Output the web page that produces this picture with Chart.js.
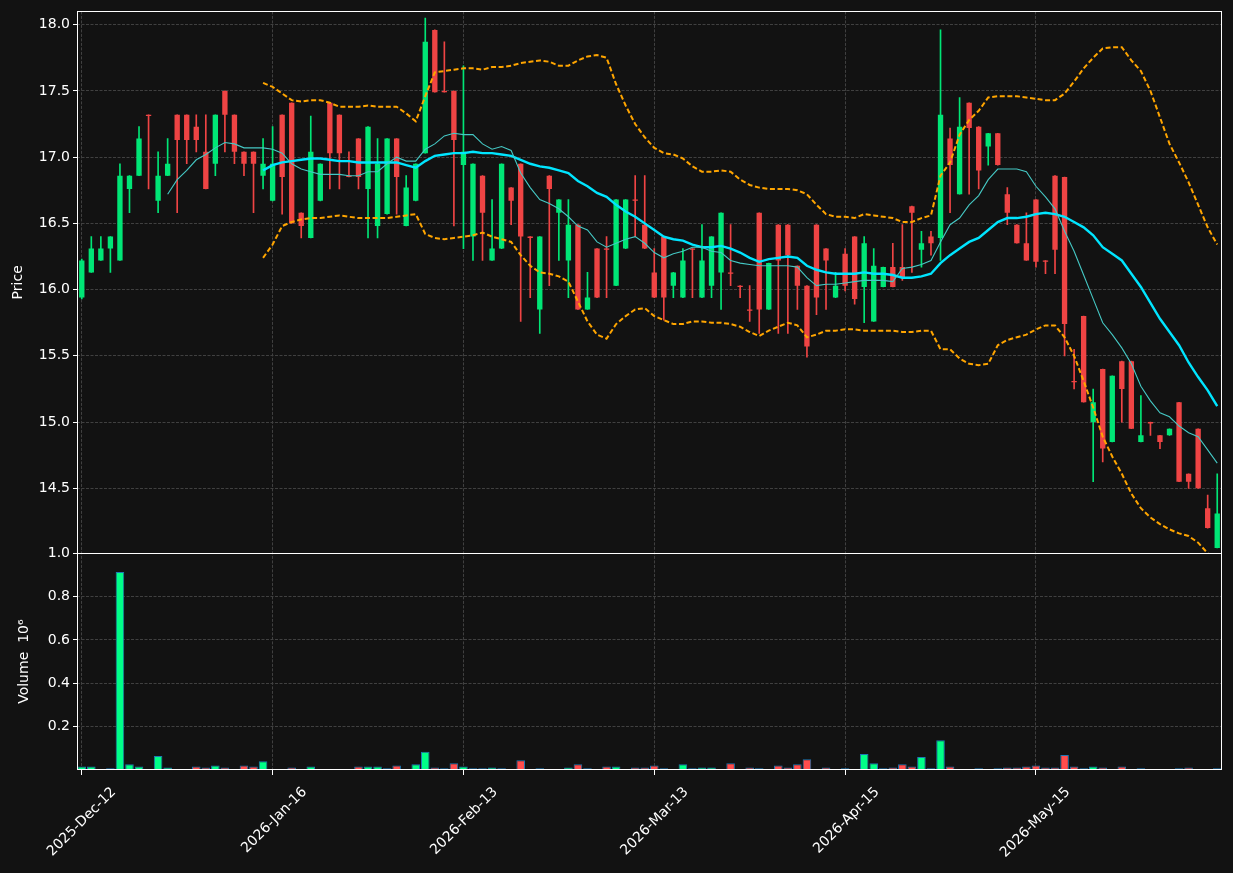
<!DOCTYPE html>
<html>
<head>
<meta charset="utf-8">
<script src="https://cdn.jsdelivr.net/npm/chart.js@4"></script>
<style>
  html, body { margin: 0; background: #121212; }
</style>
</head>
<body>
<canvas id="chart" width="1233" height="873"></canvas>
<script>
// ====================================
// Data
// ====================================
var openP = [
  15.94,16.13,16.22,16.31,16.22,16.76,16.86,17.32,16.67,16.86,
  17.32,17.32,17.23,17.04,16.95,17.50,17.32,17.04,17.04,16.86,
  16.67,17.32,17.41,16.58,16.39,16.67,17.41,17.32,16.86,17.14,
  16.76,16.48,16.57,17.14,16.48,16.67,17.03,17.96,17.50,17.50,
  16.94,16.40,16.86,16.22,16.31,16.77,16.95,16.40,15.85,16.86,
  16.58,16.22,16.49,15.85,16.31,16.31,16.03,16.31,16.68,16.49,
  16.13,16.40,16.03,15.94,16.31,15.94,16.03,16.13,16.13,16.03,
  15.85,16.58,15.85,16.49,16.49,16.18,16.03,16.49,16.31,15.94,
  16.27,16.40,16.02,15.76,16.02,16.17,16.17,16.63,16.30,16.40,
  16.39,17.14,16.72,17.41,17.23,17.08,17.18,16.72,16.49,16.35,
  16.68,16.22,16.86,16.85,15.31,15.80,15.00,15.40,14.85,15.46,
  15.46,14.85,15.00,14.90,14.90,15.15,14.61,14.95,14.35,14.05
];
var highP = [
  16.23,16.40,16.40,16.40,16.95,16.86,17.23,17.32,17.04,17.14,
  17.32,17.32,17.32,17.32,17.32,17.50,17.32,17.04,17.04,17.14,
  17.23,17.32,17.41,16.58,17.31,16.95,17.41,17.32,17.04,17.14,
  17.23,17.14,17.14,17.14,16.86,16.95,18.05,17.96,17.87,17.50,
  17.69,16.95,16.86,16.68,16.95,16.77,16.95,16.40,16.40,16.86,
  16.68,16.68,16.49,16.13,16.31,16.40,16.68,16.68,16.86,16.86,
  16.31,16.40,16.13,16.31,16.31,16.49,16.40,16.58,16.49,16.03,
  16.03,16.58,16.20,16.49,16.49,16.18,16.03,16.49,16.31,16.13,
  16.31,16.40,16.40,16.31,16.17,16.35,16.49,16.63,16.44,16.44,
  17.96,17.22,17.45,17.41,17.23,17.18,17.18,16.77,16.49,16.58,
  16.68,16.22,16.86,16.85,15.55,15.80,15.25,15.40,15.35,15.46,
  15.46,15.20,15.00,14.90,14.95,15.15,14.61,14.95,14.45,14.61
];
var lowP = [
  15.93,16.13,16.22,16.13,16.22,16.58,16.86,16.76,16.58,16.86,
  16.58,16.95,17.04,16.76,16.86,17.04,16.95,16.86,16.58,16.76,
  16.67,16.57,16.50,16.39,16.39,16.67,16.76,16.76,16.85,16.76,
  16.39,16.39,16.57,16.57,16.48,16.67,17.03,17.49,17.49,16.48,
  16.31,16.22,16.22,16.22,16.31,16.49,15.76,15.94,15.67,16.03,
  16.22,15.94,15.85,15.85,15.94,15.94,16.03,16.31,16.40,16.31,
  15.94,15.77,15.94,15.94,15.94,15.94,15.94,15.85,16.03,15.94,
  15.76,15.67,15.85,15.67,15.67,15.85,15.49,15.81,15.85,15.94,
  15.99,15.89,15.75,15.76,16.02,16.02,16.07,16.13,16.17,16.26,
  16.22,16.58,16.72,16.72,16.76,16.94,16.94,16.49,16.35,16.22,
  16.17,16.12,16.12,15.50,15.25,15.15,14.55,14.70,14.85,15.00,
  14.95,14.85,14.90,14.80,14.90,14.55,14.50,14.50,14.20,14.05
];
var closeP = [
  16.22,16.31,16.31,16.40,16.86,16.86,17.14,17.31,16.86,16.95,
  17.13,17.13,17.13,16.76,17.32,17.32,17.04,16.95,16.95,16.95,
  16.95,16.85,16.50,16.48,17.04,16.95,17.03,17.03,16.85,16.85,
  17.23,16.95,17.14,16.85,16.77,16.95,17.87,17.49,17.49,17.13,
  17.04,16.95,16.58,16.31,16.95,16.67,16.40,16.39,16.40,16.76,
  16.68,16.49,15.85,15.94,15.94,16.30,16.68,16.68,16.67,16.31,
  15.94,15.94,16.13,16.22,16.30,16.22,16.40,16.58,16.12,16.02,
  15.84,15.85,16.20,16.22,16.26,16.03,15.57,15.94,16.22,16.03,
  16.03,15.93,16.35,16.18,16.17,16.02,16.09,16.58,16.35,16.35,
  17.32,16.94,17.23,17.22,16.90,17.18,16.94,16.58,16.35,16.22,
  16.21,16.21,16.30,15.74,15.30,15.15,15.15,14.80,15.35,15.25,
  14.95,14.90,14.99,14.85,14.95,14.55,14.55,14.50,14.20,14.31
];
var volume = [
  0.016,0.016,0.003,0.008,0.913,0.026,0.016,0.003,0.065,0.011,
  0.003,0.003,0.016,0.011,0.021,0.011,0.003,0.021,0.016,0.040,
  0.003,0.003,0.011,0.003,0.016,0.003,0.003,0.003,0.003,0.016,
  0.016,0.016,0.008,0.021,0.003,0.026,0.084,0.011,0.008,0.031,
  0.016,0.008,0.008,0.011,0.008,0.003,0.045,0.003,0.008,0.003,
  0.003,0.011,0.026,0.008,0.003,0.016,0.016,0.003,0.011,0.011,
  0.021,0.008,0.003,0.026,0.008,0.011,0.011,0.003,0.031,0.003,
  0.011,0.008,0.003,0.021,0.011,0.026,0.050,0.003,0.011,0.003,
  0.008,0.003,0.074,0.031,0.008,0.011,0.026,0.016,0.060,0.008,
  0.137,0.016,0.003,0.003,0.008,0.003,0.008,0.011,0.011,0.016,
  0.021,0.011,0.011,0.069,0.016,0.008,0.016,0.011,0.003,0.016,
  0.003,0.008,0.003,0.003,0.003,0.008,0.011,0.003,0.003,0.008
];
var ma10 = [
  null,null,null,null,null,null,null,null,null,16.72,
  16.83,16.90,16.98,17.02,17.07,17.11,17.10,17.07,17.07,17.07,
  17.06,17.03,16.95,16.91,16.89,16.87,16.87,16.87,16.86,16.86,
  16.89,16.89,16.95,17.00,16.97,16.97,17.06,17.10,17.16,17.18,
  17.17,17.17,17.10,17.06,17.08,17.05,16.88,16.77,16.68,16.65,
  16.61,16.55,16.48,16.45,16.36,16.32,16.35,16.38,16.40,16.35,
  16.28,16.24,16.27,16.29,16.32,16.32,16.29,16.28,16.22,16.20,
  16.19,16.18,16.18,16.18,16.18,16.17,16.09,16.03,16.04,16.04,
  16.05,16.06,16.07,16.07,16.07,16.06,16.16,16.17,16.19,16.22,
  16.36,16.49,16.54,16.64,16.71,16.83,16.91,16.91,16.91,16.89,
  16.78,16.70,16.61,16.44,16.29,16.11,15.93,15.75,15.66,15.56,
  15.44,15.27,15.16,15.07,15.04,14.97,14.92,14.89,14.79,14.69
];
var ma20 = [
  null,null,null,null,null,null,null,null,null,null,
  null,null,null,null,null,null,null,null,null,16.90,
  16.94,16.96,16.97,16.98,16.99,16.99,16.98,16.97,16.97,16.96,
  16.96,16.96,16.96,16.96,16.94,16.92,16.97,17.01,17.02,17.03,
  17.03,17.04,17.03,17.03,17.02,17.01,16.98,16.95,16.93,16.92,
  16.90,16.88,16.82,16.78,16.73,16.70,16.64,16.59,16.55,16.50,
  16.45,16.40,16.38,16.37,16.34,16.32,16.32,16.33,16.31,16.28,
  16.24,16.21,16.23,16.24,16.25,16.24,16.18,16.15,16.13,16.12,
  16.12,16.12,16.13,16.12,16.12,16.11,16.09,16.09,16.10,16.12,
  16.20,16.26,16.31,16.36,16.39,16.45,16.51,16.54,16.54,16.55,
  16.57,16.58,16.57,16.55,16.51,16.47,16.41,16.32,16.27,16.22,
  16.12,16.02,15.90,15.78,15.68,15.58,15.45,15.34,15.24,15.12
];
var bandUpper = [
  null,null,null,null,null,null,null,null,null,null,
  null,null,null,null,null,null,null,null,null,17.56,
  17.53,17.48,17.43,17.42,17.43,17.43,17.41,17.38,17.38,17.38,
  17.39,17.38,17.38,17.38,17.33,17.27,17.46,17.64,17.65,17.66,
  17.67,17.67,17.66,17.68,17.68,17.69,17.71,17.72,17.73,17.72,
  17.69,17.69,17.73,17.76,17.77,17.75,17.55,17.39,17.25,17.15,
  17.07,17.03,17.02,16.99,16.93,16.89,16.89,16.90,16.89,16.83,
  16.79,16.77,16.76,16.76,16.76,16.75,16.72,16.64,16.57,16.55,
  16.55,16.54,16.57,16.56,16.55,16.54,16.51,16.51,16.54,16.56,
  16.86,16.96,17.17,17.28,17.35,17.45,17.46,17.46,17.46,17.45,
  17.44,17.43,17.43,17.48,17.57,17.67,17.75,17.82,17.83,17.83,
  17.73,17.65,17.50,17.30,17.10,16.96,16.81,16.64,16.47,16.34
];
var bandLower = [
  null,null,null,null,null,null,null,null,null,null,
  null,null,null,null,null,null,null,null,null,16.24,
  16.34,16.48,16.51,16.53,16.54,16.54,16.55,16.56,16.55,16.54,
  16.54,16.54,16.54,16.55,16.56,16.57,16.42,16.39,16.38,16.39,
  16.40,16.41,16.43,16.40,16.38,16.36,16.26,16.18,16.13,16.12,
  16.10,16.06,15.91,15.76,15.66,15.63,15.74,15.80,15.85,15.86,
  15.80,15.77,15.74,15.74,15.76,15.76,15.75,15.75,15.74,15.72,
  15.68,15.65,15.69,15.72,15.75,15.73,15.64,15.66,15.69,15.69,
  15.70,15.70,15.69,15.69,15.69,15.69,15.68,15.68,15.69,15.69,
  15.55,15.55,15.48,15.44,15.43,15.44,15.58,15.62,15.64,15.66,
  15.70,15.73,15.73,15.64,15.50,15.31,15.11,14.89,14.74,14.61,
  14.46,14.35,14.28,14.23,14.19,14.16,14.14,14.09,14.01,13.88
];
var dateTickIdx = [0, 20, 40, 60, 80, 100];
var dateTickLabels = ['2025-Dec-12', '2026-Jan-16', '2026-Feb-13', '2026-Mar-13', '2026-Apr-15', '2026-May-15'];
var priceTicks = [14.5, 15.0, 15.5, 16.0, 16.5, 17.0, 17.5, 18.0];
var volumeTicks = [0.2, 0.4, 0.6, 0.8, 1.0];

// ====================================
// Styles
// ====================================
var UP = '#00e676', DOWN = '#ef4444';
var VOL_UP = '#00ff88', VOL_DOWN = '#ff4d4d';
var GRID = '#404040';

var candleIdx = openP.map(function(_, i) { return String(i); });
var isUp = openP.map(function(o, i) { return closeP[i] >= o; });
var wicks = lowP.map(function(l, i) { return [l, highP[i]]; });
var bodies = openP.map(function(o, i) { return [o, closeP[i]]; });

function tickLabel(i) {
    var k = dateTickIdx.indexOf(i);
    return k >= 0 ? dateTickLabels[k] : '';
}

Chart.defaults.font.family = 'DejaVu Sans';
Chart.defaults.font.size = 14;
Chart.defaults.color = '#ffffff';

// background + white frame round each panel
var panelFrame = {
    id: 'panelFrame',
    beforeDraw: function(chart) {
        var c = chart.ctx;
        c.save();
        c.fillStyle = '#121212';
        c.fillRect(0, 0, chart.width, chart.height);
        c.restore();
    },
    afterDraw: function(chart) {
        var c = chart.ctx, a = chart.chartArea;
        var yp = chart.scales.y, yv = chart.scales.yv;
        c.save();
        c.strokeStyle = '#ffffff';
        c.lineWidth = 1;
        c.strokeRect(Math.round(a.left) + 0.5, Math.round(yp.top) + 0.5, Math.round(a.right - a.left) - 1, Math.round(yp.bottom - yp.top));
        c.strokeRect(Math.round(a.left) + 0.5, Math.round(yv.top) + 0.5, Math.round(a.right - a.left) - 1, Math.round(yv.bottom - yv.top) - 1);
        c.restore();
    }
};

var lineBase = { type: 'line', yAxisID: 'y', pointRadius: 0, tension: 0, spanGaps: false, order: 0 };

new Chart(document.getElementById('chart'), {
    data: {
        labels: candleIdx,
        datasets: [
            Object.assign({}, lineBase, { label: 'MA10', data: ma10, borderColor: '#45c8c4', borderWidth: 1.1 }),
            Object.assign({}, lineBase, { label: 'MA20', data: ma20, borderColor: '#00e5ff', borderWidth: 2.4 }),
            Object.assign({}, lineBase, { label: 'Upper', data: bandUpper, borderColor: '#ffa500', borderWidth: 2, borderDash: [5, 2.6] }),
            Object.assign({}, lineBase, { label: 'Lower', data: bandLower, borderColor: '#ffa500', borderWidth: 2, borderDash: [5, 2.6] }),
            {
                type: 'bar', label: 'Body', yAxisID: 'y', data: bodies, order: 2, grouped: false,
                backgroundColor: isUp.map(function(u) { return u ? UP : DOWN; }),
                barPercentage: 0.56, categoryPercentage: 1, borderWidth: 0, minBarLength: 1
            },
            {
                type: 'bar', label: 'Wick', yAxisID: 'y', data: wicks, order: 3, grouped: false,
                backgroundColor: isUp.map(function(u) { return u ? UP : DOWN; }),
                barThickness: 1, borderWidth: 0
            },
            {
                type: 'bar', label: 'Volume', yAxisID: 'yv', data: volume, order: 2, grouped: false,
                backgroundColor: isUp.map(function(u) { return u ? VOL_UP : VOL_DOWN; }),
                borderColor: '#1f77b4', borderWidth: 1,
                barPercentage: 0.9, categoryPercentage: 1
            }
        ]
    },
    options: {
        responsive: false,
        animation: false,
        devicePixelRatio: 1,
        layout: { padding: { top: 10, right: 11, left: 0, bottom: 0 } },
        plugins: { legend: { display: false }, tooltip: { enabled: false } },
        scales: {
            x: {
                type: 'category',
                offset: true,
                grid: {
                    offset: false,
                    color: function(ctx) { return tickLabel(ctx.index) ? GRID : 'transparent'; },
                    tickColor: function(ctx) { return tickLabel(ctx.index) ? '#ffffff' : 'transparent'; },
                    tickLength: 5,
                    tickBorderDash: []
                },
                border: { display: false, dash: [3, 1.5] },
                ticks: {
                    autoSkip: false,
                    minRotation: 45,
                    maxRotation: 45,
                    padding: 9,
                    labelOffset: 32,
                    color: '#ffffff',
                    callback: function(v, i) { return tickLabel(i); }
                },
                afterFit: function(s) {
                    s.height = 103;
                    s.paddingLeft = 0;
                    s.paddingRight = 0;
                }
            },
            // volume listed first so it sits at the bottom of the stack
            yv: {
                type: 'linear',
                position: 'left',
                stack: 'panels',
                stackWeight: 1,
                min: 0,
                max: 1.0,
                afterBuildTicks: function(s) { s.ticks = volumeTicks.map(function(v) { return { value: v }; }); },
                afterFit: function(s) { s.width = 77; },
                grid: { color: GRID, tickColor: '#ffffff', tickLength: 4, tickBorderDash: [] },
                border: { display: false, dash: [3, 1.5] },
                ticks: { padding: 3, color: '#ffffff', callback: function(v) { return v.toFixed(1); } },
                title: { display: true, text: 'Volume  10\u2076', color: '#ffffff', padding: { top: 16, bottom: 0 } }
            },
            y: {
                type: 'linear',
                position: 'left',
                stack: 'panels',
                stackWeight: 2.5,
                min: 14.01,
                max: 18.1,
                afterBuildTicks: function(s) { s.ticks = priceTicks.map(function(v) { return { value: v }; }); },
                afterFit: function(s) { s.width = 77; },
                grid: { color: GRID, tickColor: '#ffffff', tickLength: 4, tickBorderDash: [] },
                border: { display: false, dash: [3, 1.5] },
                ticks: { padding: 3, color: '#ffffff', callback: function(v) { return v.toFixed(1); } },
                title: { display: true, text: 'Price', color: '#ffffff', padding: { top: 10, bottom: 0 } }
            }
        }
    },
    plugins: [panelFrame]
});
</script>
</body>
</html>
